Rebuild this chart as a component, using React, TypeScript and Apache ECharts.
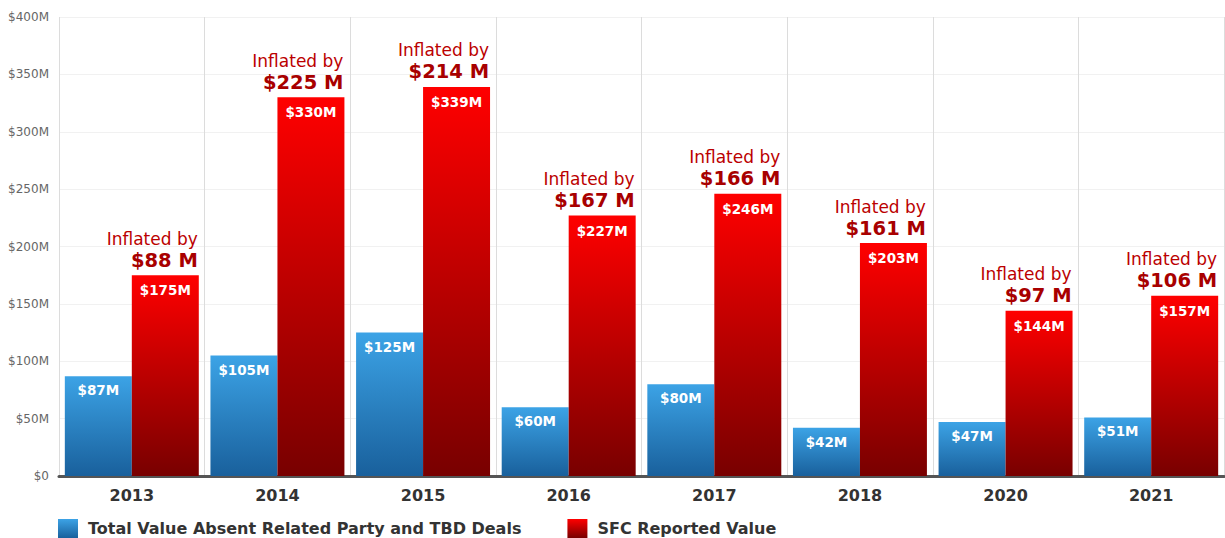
import React, { useEffect, useRef } from "react";
import * as echarts from "echarts";

const categories = ["2013", "2014", "2015", "2016", "2017", "2018", "2020", "2021"];
const absentValues = [87, 105, 125, 60, 80, 42, 47, 51];
const reportedValues = [175, 330, 339, 227, 246, 203, 144, 157];
const inflatedBy = [88, 225, 214, 167, 166, 161, 97, 106];
const yTicks = { min: 0, max: 400, interval: 50 };

const FONT = "'DejaVu Sans', Verdana, sans-serif";

export default function App() {
  const ref = useRef<HTMLDivElement>(null);
  useEffect(() => {
    if (!ref.current) return;
    const chart = echarts.init(ref.current, null, { renderer: "svg" });
    const blueGrad = new echarts.graphic.LinearGradient(0, 0, 0, 1, [
      { offset: 0, color: "#3ca3e6" },
      { offset: 1, color: "#19609c" },
    ]);
    const redGrad = new echarts.graphic.LinearGradient(0, 0, 0, 1, [
      { offset: 0, color: "#ff0000" },
      { offset: 1, color: "#780000" },
    ]);
    chart.setOption({
      animation: false,
      textStyle: { fontFamily: FONT },
      grid: { left: 59, right: 1, top: 17, bottom: 62, containLabel: false },
      legend: {
        left: 58,
        top: 519,
        padding: 0,
        itemWidth: 20,
        itemHeight: 19,
        itemGap: 46,
        icon: "rect",
        data: ["Total Value Absent Related Party and TBD Deals", "SFC Reported Value"],
        textStyle: {
          fontFamily: FONT,
          fontSize: 16,
          fontWeight: "bold",
          color: "#333",
          lineHeight: 16,
          padding: [0, 0, 0, 5],
        },
      },
      xAxis: {
        type: "category",
        data: categories,
        axisLine: { show: true, lineStyle: { color: "#555", width: 3 } },
        axisTick: { show: false },
        axisLabel: { fontFamily: FONT, fontSize: 16, fontWeight: "bold", color: "#333", margin: 11 },
        splitLine: { show: true, lineStyle: { color: "#dcdcdc", width: 1 } },
      },
      yAxis: {
        type: "value",
        min: yTicks.min,
        max: yTicks.max,
        interval: yTicks.interval,
        axisLine: { show: false },
        axisTick: { show: false },
        axisLabel: {
          fontFamily: FONT,
          fontSize: 12,
          color: "#666",
          margin: 10,
          formatter: (v: number) => (v === 0 ? "$0" : `$${v}M`),
        },
        splitLine: { show: true, lineStyle: { color: "#f1f1f1", width: 1 } },
      },
      series: [
        {
          name: "Total Value Absent Related Party and TBD Deals",
          type: "bar",
          data: absentValues,
          barGap: "0%",
          barCategoryGap: "8%",
          itemStyle: { color: blueGrad },
          label: {
            show: true,
            position: "insideTop",
            distance: 7,
            color: "#fff",
            fontFamily: FONT,
            fontSize: 13.5,
            fontWeight: "bold",
            formatter: (p: any) => `$${p.value}M`,
          },
        },
        {
          name: "SFC Reported Value",
          type: "bar",
          stack: "r",
          data: reportedValues,
          barGap: "0%",
          barCategoryGap: "8%",
          itemStyle: { color: redGrad },
          label: {
            show: true,
            position: "insideTop",
            distance: 8,
            color: "#fff",
            fontFamily: FONT,
            fontSize: 13.5,
            fontWeight: "bold",
            formatter: (p: any) => `$${p.value}M`,
          },
        },
        {
          name: "annotation",
          type: "bar",
          stack: "r",
          silent: true,
          data: inflatedBy.map(() => 0),
          itemStyle: { color: "rgba(0,0,0,0)" },
          label: {
            show: true,
            position: ["100%", 0],
            align: "right",
            verticalAlign: "bottom",
            offset: [-1, -4],
            formatter: (p: any) => `{a|Inflated by}\n{b|$${inflatedBy[p.dataIndex]} M}`,
            rich: {
              a: { fontFamily: FONT, fontSize: 17, color: "#bb0000", align: "right", lineHeight: 21 },
              b: { fontFamily: FONT, fontSize: 19.5, fontWeight: "bold", color: "#a80000", align: "right", lineHeight: 22 },
            },
          },
        },
      ],
    });
    return () => chart.dispose();
  }, []);
  return (
    <div
      ref={ref}
      style={{ position: "fixed", left: 0, top: 0, width: 1225, height: 538, background: "#fff" }}
    />
  );
}
